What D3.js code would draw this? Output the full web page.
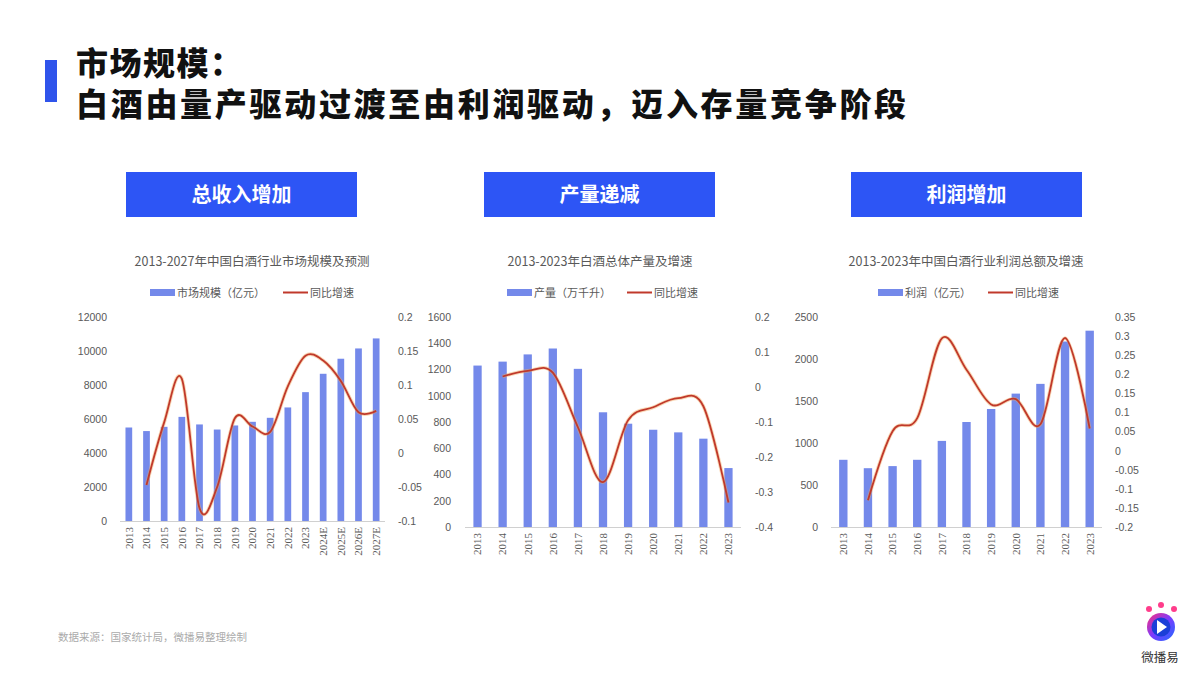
<!DOCTYPE html>
<html><head><meta charset="utf-8">
<script src="https://cdn.jsdelivr.net/npm/d3@7"></script>
<style>
html,body{margin:0;padding:0;background:#fff;}
svg{display:block;font-family:"Noto Sans CJK SC","Noto Sans",sans-serif;}
</style></head>
<body>
<svg id="c" width="1200" height="675"></svg>
<script>
// ---------- data ----------
const marketYears = ["2013","2014","2015","2016","2017","2018","2019","2020","2021","2022","2023","2024E","2025E","2026E","2027E"];
const marketSize = [5500,5290,5540,6125,5680,5380,5620,5835,6070,6680,7580,8660,9545,10150,10740];
const marketGrowth = [null,-0.047,0.045,0.109,-0.081,-0.05,0.051,0.039,0.031,0.098,0.143,0.136,0.106,0.06,0.062];
const marketLeftTicks = [0,2000,4000,6000,8000,10000,12000];
const marketRightTicks = [-0.1,-0.05,0,0.05,0.1,0.15,0.2];

const outputYears = ["2013","2014","2015","2016","2017","2018","2019","2020","2021","2022","2023"];
const outputVolume = [1230,1260,1315,1360,1205,874,787,741,721,673,449];
const outputGrowth = [null,0.03,0.046,0.041,-0.115,-0.272,-0.095,-0.058,-0.032,-0.055,-0.33];
const outputLeftTicks = [0,200,400,600,800,1000,1200,1400,1600];
const outputRightTicks = [-0.4,-0.3,-0.2,-0.1,0,0.1,0.2];

const profitYears = ["2013","2014","2015","2016","2017","2018","2019","2020","2021","2022","2023"];
const profitValue = [800,700,725,800,1025,1250,1405,1588,1704,2208,2337];
const profitGrowth = [null,-0.13,0.051,0.085,0.294,0.212,0.121,0.135,0.069,0.295,0.058];
const profitLeftTicks = [0,500,1000,1500,2000,2500];
const profitRightTicks = [-0.2,-0.15,-0.1,-0.05,0,0.05,0.1,0.15,0.2,0.25,0.3,0.35];

const chartTitles = ["2013-2027年中国白酒行业市场规模及预测","2013-2023年白酒总体产量及增速","2013-2023年中国白酒行业利润总额及增速"];
const barLegends = ["市场规模（亿元）","产量（万千升）","利润（亿元）"];
const lineLegend = "同比增速";
const buttonLabels = ["总收入增加","产量递减","利润增加"];

// ---------- drawing ----------
const svg = d3.select("#c");
svg.append("rect").attr("width",1200).attr("height",675).attr("fill","#fff");

// header
svg.append("rect").attr("x",45).attr("y",60).attr("width",12).attr("height",42).attr("fill","#2f54eb");
svg.append("text").attr("x",76).attr("y",75).attr("font-size",32).attr("font-weight",900)
  .attr("fill","#111").attr("letter-spacing",1.5).text("市场规模：");
svg.append("text").attr("x",76).attr("y",116).attr("font-size",32).attr("font-weight",900)
  .attr("fill","#111").attr("letter-spacing",2.7).text("白酒由量产驱动过渡至由利润驱动，迈入存量竞争阶段");

const BAR = "#7489ea", LINE = "#c0392b", AXIS = "#d0d0d0", LBL = "#595959";

function drawChart(cfg){
  const g = svg.append("g");
  // button
  g.append("rect").attr("x",cfg.btnX).attr("y",172).attr("width",231).attr("height",45).attr("fill","#2d55f5");
  g.append("text").attr("x",cfg.btnX+115.5).attr("y",201.5).attr("text-anchor","middle")
    .attr("font-size",20).attr("font-weight",700).attr("fill","#fff").text(cfg.button);
  // title
  g.append("text").attr("x",cfg.titleX).attr("y",266).attr("text-anchor","middle")
    .attr("font-size",12.5).attr("fill",LBL).text(cfg.title);
  // legend
  g.append("rect").attr("x",cfg.legX).attr("y",289).attr("width",25).attr("height",7).attr("fill",BAR);
  g.append("text").attr("x",cfg.legX+27).attr("y",296.5).attr("font-size",11).attr("fill",LBL).text(cfg.barLegend);
  g.append("line").attr("x1",cfg.legX2).attr("x2",cfg.legX2+25).attr("y1",292.5).attr("y2",292.5)
    .attr("stroke",LINE).attr("stroke-width",2);
  g.append("text").attr("x",cfg.legX2+27).attr("y",296.5).attr("font-size",11).attr("fill",LBL).text(lineLegend);

  const x = d3.scaleBand().domain(cfg.cats).range([cfg.x0,cfg.x1]);
  const yL = d3.scaleLinear().domain(d3.extent(cfg.leftTicks)).range([cfg.yBot,cfg.yTop]);
  const yR = d3.scaleLinear().domain(d3.extent(cfg.rightTicks)).range([cfg.yBot,cfg.yTop]);
  const bw = x.step()*cfg.barRatio;

  g.selectAll(".bar").data(cfg.values).enter().append("rect")
    .attr("x",(d,i)=>x(cfg.cats[i])+x.bandwidth()/2-bw/2)
    .attr("y",d=>yL(d)).attr("width",bw).attr("height",d=>cfg.yBot-yL(d)).attr("fill",BAR);

  // axis line
  g.append("line").attr("x1",cfg.x0).attr("x2",cfg.x1).attr("y1",cfg.yBot+0.5).attr("y2",cfg.yBot+0.5)
    .attr("stroke",AXIS).attr("stroke-width",1.2);

  // left ticks
  const la = d3.axisLeft(yL).tickValues(cfg.leftTicks).tickSize(0).tickFormat(d3.format("d"));
  const lg = g.append("g").attr("transform",`translate(${cfg.leftLblX},0)`).call(la);
  lg.select(".domain").remove();
  lg.selectAll("text").attr("font-size",10.5).attr("fill",LBL).attr("font-family","Liberation Sans, Arial, sans-serif").attr("dx",0);

  const ra = d3.axisRight(yR).tickValues(cfg.rightTicks).tickSize(0).tickFormat(d=>String(+d.toFixed(2)));
  const rg = g.append("g").attr("transform",`translate(${cfg.rightLblX},0)`).call(ra);
  rg.select(".domain").remove();
  rg.selectAll("text").attr("font-size",10.5).attr("fill",LBL).attr("font-family","Liberation Sans, Arial, sans-serif").attr("dx",0);

  // x labels
  const xa = d3.axisBottom(x).tickSize(0);
  const xg = g.append("g").attr("transform",`translate(0,${cfg.yBot})`).call(xa);
  xg.select(".domain").remove();
  xg.selectAll("text").attr("font-size",11).attr("fill",LBL)
    .attr("font-family","Liberation Serif, Times New Roman, serif")
    .attr("transform","rotate(-90)").attr("text-anchor","end").attr("x",-6).attr("y",0).attr("dy","0.35em");

  // line
  const pts = cfg.growth.map((v,i)=>[v,cfg.cats[i]]).filter(d=>d[0]!==null);
  const ln = d3.line().x(d=>x(d[1])+x.bandwidth()/2).y(d=>yR(d[0])).curve(d3.curveCardinal.tension(0));
  g.append("path").attr("d",ln(pts)).attr("fill","none").attr("stroke","#f2a65a").attr("stroke-opacity",0.45).attr("stroke-width",3.6);
  g.append("path").attr("d",ln(pts)).attr("fill","none").attr("stroke",LINE).attr("stroke-width",1.8);
}

drawChart({btnX:126,button:buttonLabels[0],titleX:252,title:chartTitles[0],legX:150,legX2:283,barLegend:barLegends[0],
  cats:marketYears,values:marketSize,growth:marketGrowth,leftTicks:marketLeftTicks,rightTicks:marketRightTicks,
  x0:120,x1:385,yTop:317,yBot:521,barRatio:0.38,leftLblX:110,rightLblX:395});
drawChart({btnX:484,button:buttonLabels[1],titleX:600,title:chartTitles[1],legX:507,legX2:627,barLegend:barLegends[1],
  cats:outputYears,values:outputVolume,growth:outputGrowth,leftTicks:outputLeftTicks,rightTicks:outputRightTicks,
  x0:465,x1:741,yTop:317,yBot:527,barRatio:0.33,leftLblX:454,rightLblX:752});
drawChart({btnX:851,button:buttonLabels[2],titleX:966,title:chartTitles[2],legX:878,legX2:988,barLegend:barLegends[2],
  cats:profitYears,values:profitValue,growth:profitGrowth,leftTicks:profitLeftTicks,rightTicks:profitRightTicks,
  x0:831,x1:1102,yTop:317,yBot:527,barRatio:0.34,leftLblX:821,rightLblX:1112});

// footer
svg.append("text").attr("x",58).attr("y",641).attr("font-size",10.5).attr("fill","#aaaaaa").text("数据来源：国家统计局，微播易整理绘制");

// logo
const defs = svg.append("defs");
const gr = defs.append("linearGradient").attr("id","lg").attr("x1","0").attr("y1","0").attr("x2","1").attr("y2","1");
gr.append("stop").attr("offset","0").attr("stop-color","#ff2d7a");
gr.append("stop").attr("offset","0.5").attr("stop-color","#7a3cff");
gr.append("stop").attr("offset","1").attr("stop-color","#1f6bff");
const logo = svg.append("g");
logo.append("circle").attr("cx",1161).attr("cy",627).attr("r",14).attr("fill","url(#lg)");
logo.append("circle").attr("cx",1161).attr("cy",627).attr("r",9.5).attr("fill","#1a3fd8");
logo.append("path").attr("d","M1157,620 L1167,627 L1157,634 Z").attr("fill","#fff");
logo.append("circle").attr("cx",1149).attr("cy",609).attr("r",3).attr("fill","#ff3d8b");
logo.append("circle").attr("cx",1161).attr("cy",605).attr("r",3).attr("fill","#ff3d8b");
logo.append("circle").attr("cx",1174).attr("cy",609).attr("r",3).attr("fill","#ff3d8b");
logo.append("text").attr("x",1160).attr("y",662).attr("text-anchor","middle").attr("font-size",12.5).attr("fill","#333").text("微播易");
</script>
</body></html>
